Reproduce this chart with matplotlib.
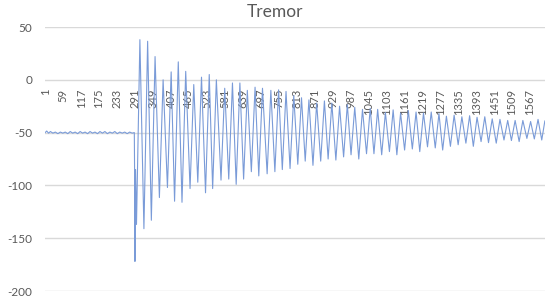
import matplotlib
matplotlib.use("Agg")
import matplotlib.pyplot as plt
import numpy as np

title = "Tremor"
n_points = 1615
tick_labels = [1, 59, 117, 175, 233, 291, 349, 407, 465, 523, 581, 639, 697, 755, 813,
               871, 929, 987, 1045, 1103, 1161, 1219, 1277, 1335, 1393, 1451, 1509, 1567]

# resting baseline before the event
base_idx = [1, 6, 12, 18, 26, 34, 42, 50, 58, 66, 74, 82, 90, 98, 106, 114, 122, 130,
            138, 146, 154, 162, 170, 178, 186, 194, 202, 210, 218, 226, 234, 242, 250,
            258, 266, 274, 282, 289]
base_vals = [-50, -48.5, -50.5, -49, -50.5, -49.5, -51, -49.5, -50.5, -49.5, -51, -49,
             -50.5, -49.5, -51, -49, -50.5, -49.5, -51, -49, -50.5, -49.5, -51, -49,
             -50.5, -49, -51, -49.5, -50.5, -49, -51, -49.5, -50.5, -49.5, -51, -49.5,
             -50.5, -50]

# onset spike
spike_idx = [290, 291, 293]
spike_vals = [-92, -172, -85]

# oscillation extremes
trough_idx = [296, 320, 344, 370, 396, 419, 443, 469, 494, 519, 542, 569, 594, 618, 642,
              667, 691, 718, 743, 767, 792, 817, 841, 866, 891, 915, 940, 965, 989, 1014,
              1039, 1063, 1088, 1113, 1137, 1162, 1187, 1211, 1236, 1261, 1285, 1310,
              1335, 1360, 1384, 1409, 1433, 1458, 1483, 1507, 1532, 1557, 1581, 1605]
trough_vals = [-137, -141, -133, -111.5, -102, -115, -116, -103, -97, -107,
               -103, -95, -94, -99, -94, -87, -91, -89, -87, -85,
               -84, -80, -77, -81, -77, -75, -76, -73, -71, -75,
               -70, -70, -71, -68, -71, -66.5, -65.5, -68, -63.5, -64.5,
               -66.5, -63, -61.5, -60, -63, -58.5, -59.5, -60, -57, -57.5,
               -58.5, -55.5, -56, -57]
peak_idx = [307, 332, 356, 382, 408, 431, 455, 481, 506, 531, 554, 581, 606, 630, 654,
            679, 703, 730, 755, 779, 804, 829, 853, 878, 903, 927, 952, 977, 1001, 1026,
            1051, 1075, 1100, 1125, 1149, 1174, 1199, 1223, 1248, 1273, 1297, 1322, 1347,
            1372, 1396, 1421, 1445, 1470, 1495, 1519, 1544, 1569, 1593]
peak_vals = [38, 36.5, 22, 0, 7.5, 17, 8, -4.5, 2.5, 5,
             0, -8, -3, -3, -10, -7, -8, -10, -9.5, -11,
             -15, -17, -19, -22, -20, -22, -25, -23.5, -26, -28,
             -27, -28, -31, -28.5, -31.5, -29, -30.5, -31.5, -30.5, -32,
             -34.5, -33.5, -35, -34, -35.5, -35, -37, -37.5, -38.5, -38.5,
             -38.5, -39.5, -37.5]
end_idx = [1615]
end_vals = [-39]

# assemble series
osc_x, osc_y = [], []
for i in range(len(peak_idx)):
    osc_x += [trough_idx[i], peak_idx[i]]
    osc_y += [trough_vals[i], peak_vals[i]]
osc_x += trough_idx[len(peak_idx):]
osc_y += trough_vals[len(peak_idx):]

x = base_idx + spike_idx + osc_x + end_idx
y = base_vals + spike_vals + osc_y + end_vals

plt.rcParams['font.family'] = ['Lato', 'DejaVu Sans']
fig = plt.figure(figsize=(5.5, 3.02), dpi=100)
ax = fig.add_axes([45/550, 1-291/302, 500/550, 264/302])

ax.set_xlim(0.5, n_points + 0.5)
ax.set_ylim(-200, 50)

for s in ['top', 'right', 'left', 'bottom']:
    ax.spines[s].set_visible(False)

ax.set_yticks([50, 0, -50, -100, -150, -200])
ax.set_yticklabels(['50', '0', '-50', '-100', '-150', '-200'])
ax.grid(axis='y', color='#D9D9D9', lw=1.0)
ax.set_axisbelow(True)
ax.tick_params(axis='y', length=0, pad=9, labelsize=8.5, labelcolor='#595959')
ax.set_xticks([])

# category labels hanging below the horizontal axis at y = 0
for t in tick_labels:
    ax.annotate(str(t), xy=(t, 0), xycoords='data', xytext=(0, -6.5),
                textcoords='offset points', rotation=90, rotation_mode='anchor',
                ha='right', va='center', fontsize=8, color='#595959', zorder=1)

ax.plot(x, y, color='#7A9BD8', lw=0.8, zorder=3)

fig.text(0.5, 1 - 12/302, title, ha='center', va='center', fontsize=12.5, color='#595959')

fig.savefig('out.png', dpi=100)
